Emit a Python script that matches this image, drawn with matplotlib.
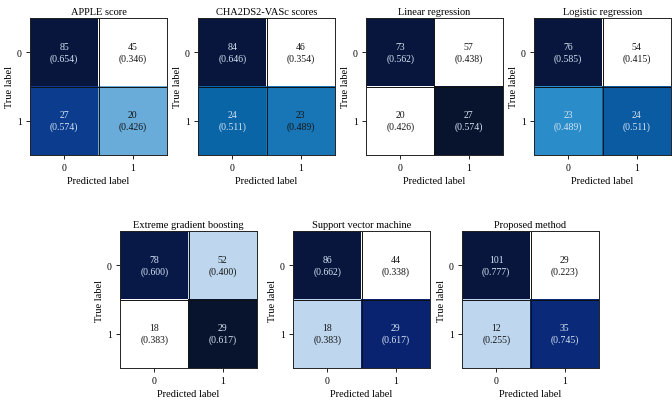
import numpy as np
import matplotlib
matplotlib.use("Agg")
import matplotlib.pyplot as plt
from matplotlib.colors import LinearSegmentedColormap

plt.rcParams['font.family'] = ['Liberation Serif', 'DejaVu Serif']

titles = ["APPLE score", "CHA2DS2-VASc scores", "Linear regression", "Logistic regression",
          "Extreme gradient boosting", "Support vector machine", "Proposed method"]

counts = [
    [[85, 45], [27, 20]],
    [[84, 46], [24, 23]],
    [[73, 57], [20, 27]],
    [[76, 54], [23, 24]],
    [[78, 52], [18, 29]],
    [[86, 44], [18, 29]],
    [[101, 29], [12, 35]],
]

rates = [
    [[0.654, 0.346], [0.574, 0.426]],
    [[0.646, 0.354], [0.511, 0.489]],
    [[0.562, 0.438], [0.426, 0.574]],
    [[0.585, 0.415], [0.489, 0.511]],
    [[0.600, 0.400], [0.383, 0.617]],
    [[0.662, 0.338], [0.383, 0.617]],
    [[0.777, 0.223], [0.255, 0.745]],
]

# colour intensity of each cell (0 = white, 1 = darkest)
shades = [
    [[0.97, 0.0], [0.80, 0.45]],
    [[0.97, 0.0], [0.67, 0.64]],
    [[0.97, 0.0], [0.0, 1.0]],
    [[0.97, 0.0], [0.60, 0.70]],
    [[0.95, 0.25], [0.0, 1.0]],
    [[0.97, 0.0], [0.25, 0.88]],
    [[0.97, 0.0], [0.25, 0.86]],
]

tick_labels = ["0", "1"]

cmap = LinearSegmentedColormap.from_list("cm", [
    (0.0, "#ffffff"), (0.25, "#bfd8ef"), (0.45, "#6aaddb"), (0.60, "#2a8cc8"),
    (0.67, "#0a66a8"), (0.80, "#0b3c8e"), (0.88, "#0a2472"), (1.0, "#08132e")])

W, H = 672, 402
fig = plt.figure(figsize=(W / 100, H / 100), dpi=100)

size = 137
positions = [(30, 19), (198, 19), (366, 19), (534, 19),
             (120, 232), (293, 232), (462, 232)]

light_txt = "#d4e3f4"
dark_txt = "#151515"

for i, (x0, y0) in enumerate(positions):
    ax = fig.add_axes([x0 / W, (H - y0 - size) / H, size / W, size / H])
    ax.imshow(np.array(shades[i]), cmap=cmap, vmin=0, vmax=1, aspect='auto')
    for r in range(2):
        for c in range(2):
            rate = rates[i][r][c]
            light = rate > 0.5 or (i == 3 and r == 1)
            ax.text(c, r, f"{counts[i][r][c]}\n({rate:.3f})", ha='center', va='center',
                    fontsize=7, color=light_txt if light else dark_txt, linespacing=1.3)
    ax.axhline(0.5, color='#111111', lw=0.7)
    ax.axvline(0.5, color='#111111', lw=0.7)
    ax.set_xticks([0, 1])
    ax.set_yticks([0, 1])
    ax.set_xticklabels(tick_labels, fontsize=7)
    ax.set_yticklabels(tick_labels, fontsize=7)
    ax.tick_params(length=3, width=0.6, pad=3)
    ax.set_xlabel("Predicted label", fontsize=7.5, labelpad=3)
    ax.set_ylabel("True label", fontsize=7.5, labelpad=2)
    ax.set_title(titles[i], fontsize=7.5, pad=3)
    for s in ax.spines.values():
        s.set_linewidth(0.7)
        s.set_color('#222222')

fig.savefig("out.png", dpi=100)
